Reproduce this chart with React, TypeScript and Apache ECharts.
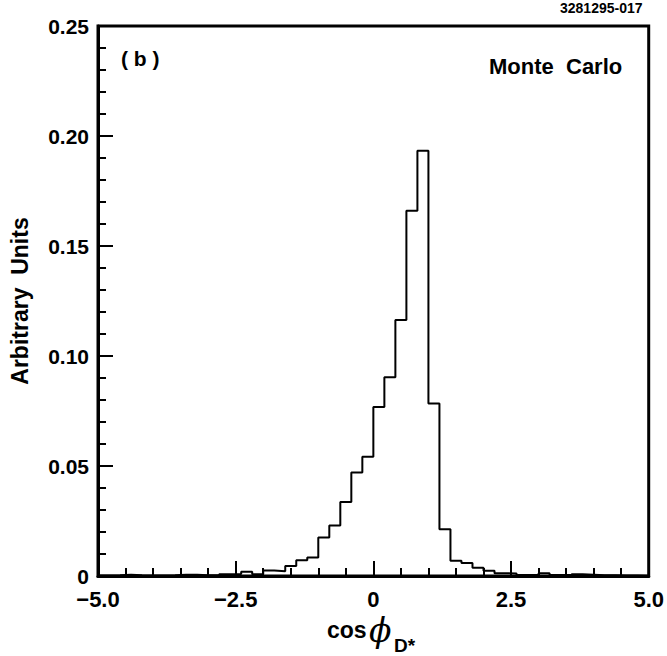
import React, { useEffect, useRef } from "react";
import * as echarts from "echarts";

// Bin left edges (bin width 0.2) and the closing right edge
const binEdges = [
  -5.0, -4.8, -4.6, -4.4, -4.2, -4.0, -3.8, -3.6, -3.4, -3.2,
  -3.0, -2.8, -2.6, -2.4, -2.2, -2.0, -1.8, -1.6, -1.4, -1.2,
  -1.0, -0.8, -0.6, -0.4, -0.2, 0.0, 0.2, 0.4, 0.6, 0.8,
  1.0, 1.2, 1.4, 1.6, 1.8, 2.0, 2.2, 2.4, 2.6, 2.8,
  3.0, 3.2, 3.4, 3.6, 3.8, 4.0, 4.2, 4.4, 4.6, 4.8, 5.0,
];

// Bin contents (arbitrary units)
const binValues = [
  0.0002, 0.0003, 0.0006, 0.0003, 0.0002, 0.0002, 0.0003, 0.0006, 0.0006, 0.0003,
  0.0004, 0.0008, 0.0009, 0.0019, 0.0008, 0.0025, 0.0022, 0.0045, 0.0072, 0.0084,
  0.0175, 0.0230, 0.0336, 0.0471, 0.0542, 0.0768, 0.0903, 0.1164, 0.1660, 0.1933,
  0.0784, 0.0212, 0.0069, 0.0059, 0.0038, 0.0024, 0.0013, 0.0011, 0.0005, 0.0004,
  0.0012, 0.0005, 0.0004, 0.0008, 0.0006, 0.0003, 0.0003, 0.0002, 0.0002, 0.0001,
];

const xTickLabels = ["−5.0", "−2.5", "0", "2.5", "5.0"];
const yTickLabels = ["0", "0.05", "0.10", "0.15", "0.20", "0.25"];

const FONT = "Liberation Sans, Arial, Helvetica, sans-serif";

const xMin = -5, xMax = 5, xInt = 2.5;
const yMin = 0, yMax = 0.25, yInt = 0.05;

function titleAt(text: string, left: number, top: number, size: number, extra: any = {}) {
  return {
    text,
    left,
    top,
    padding: 0,
    textStyle: {
      color: "#000",
      fontFamily: FONT,
      fontWeight: "bold",
      fontSize: size,
      ...extra,
    },
  };
}

export default function App() {
  const ref = useRef<HTMLDivElement>(null);

  useEffect(() => {
    if (!ref.current) return;
    const chart = echarts.init(ref.current, undefined, { renderer: "svg" });

    const data = binEdges.map((e, i) => [
      e,
      binValues[Math.min(i, binValues.length - 1)],
    ]);

    chart.setOption({
      animation: false,
      backgroundColor: "#fff",
      title: [
        titleAt("3281295-017", 560, 1, 14),
        titleAt("( b )", 121, 48, 21),
        titleAt("Monte  Carlo", 489, 55, 22),
        titleAt("cos", 327, 618, 23),
        titleAt("\u03D5", 369, 614, 33, {
          fontStyle: "italic",
          fontWeight: "normal",
          fontFamily: "DejaVu Serif, Liberation Serif, serif",
        }),
        titleAt("D*", 394, 636, 19),
      ],
      grid: {
        left: 97,
        right: 17,
        top: 26,
        bottom: 80,
        show: true,
        borderColor: "#000",
        borderWidth: 3,
        backgroundColor: "transparent",
      },
      xAxis: {
        type: "value",
        position: "bottom",
        min: xMin,
        max: xMax,
        interval: xInt,
        axisLine: { show: true, onZero: false, lineStyle: { color: "#000", width: 3 } },
        axisTick: { show: true, inside: true, length: 15, lineStyle: { color: "#000", width: 2 } },
        minorTick: { show: true, splitNumber: 5, length: 8, lineStyle: { color: "#000", width: 2 } },
        splitLine: { show: false },
        axisLabel: {
          show: true,
          margin: 12,
          color: "#000",
          fontFamily: FONT,
          fontWeight: "bold",
          fontSize: 22,
          formatter: (v: number) => xTickLabels[Math.round((v - xMin) / xInt)] ?? "",
        },
      },
      yAxis: {
        type: "value",
        position: "left",
        min: yMin,
        max: yMax,
        interval: yInt,
        name: "Arbitrary  Units",
        nameLocation: "middle",
        nameRotate: 90,
        nameGap: 67,
        nameTextStyle: { color: "#000", fontFamily: FONT, fontWeight: "bold", fontSize: 23 },
        axisLine: { show: true, onZero: false, lineStyle: { color: "#000", width: 3 } },
        axisTick: { show: true, inside: true, length: 15, lineStyle: { color: "#000", width: 2 } },
        minorTick: { show: true, splitNumber: 5, length: 8, lineStyle: { color: "#000", width: 2 } },
        splitLine: { show: false },
        axisLabel: {
          show: true,
          margin: 9,
          color: "#000",
          fontFamily: FONT,
          fontWeight: "bold",
          fontSize: 21,
          formatter: (v: number) => yTickLabels[Math.round((v - yMin) / yInt)] ?? "",
        },
      },
      series: [
        {
          type: "line",
          step: "end",
          data,
          symbol: "none",
          lineStyle: { color: "#000", width: 2 },
        },
      ],
    });

    return () => chart.dispose();
  }, []);

  return (
    <div
      ref={ref}
      style={{ position: "fixed", left: 0, top: 0, width: 667, height: 656, background: "#fff" }}
    />
  );
}
